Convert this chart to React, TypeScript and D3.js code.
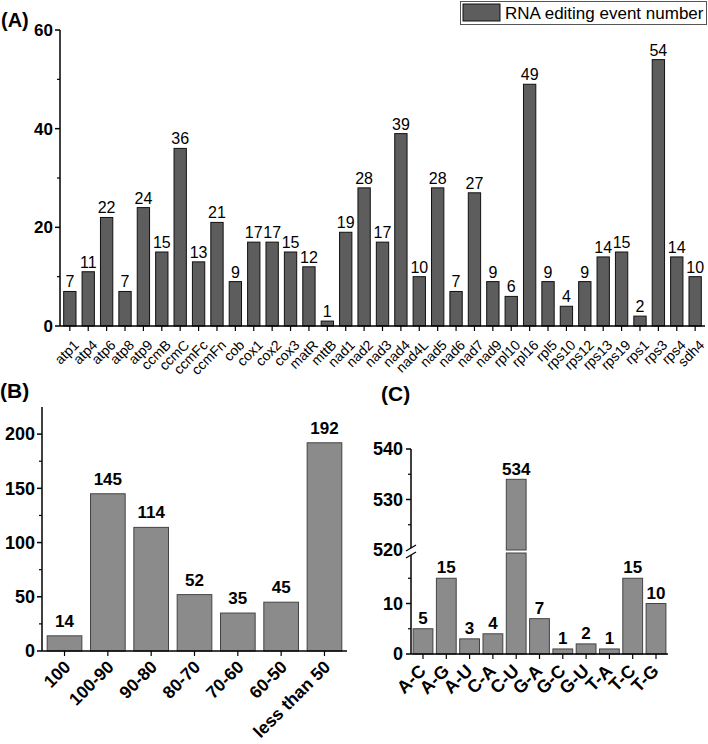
import * as d3 from "d3";

const genes = [
  "atp1", "atp4", "atp6", "atp8", "atp9", "ccmB", "ccmC", "ccmFc", "ccmFn", "cob",
  "cox1", "cox2", "cox3", "matR", "mttB", "nad1", "nad2", "nad3", "nad4", "nad4L",
  "nad5", "nad6", "nad7", "nad9", "rpl10", "rpl16", "rpl5", "rps10", "rps12", "rps13",
  "rps19", "rps1", "rps3", "rps4", "sdh4",
];
const geneCounts = [
  7, 11, 22, 7, 24, 15, 36, 13, 21, 9,
  17, 17, 15, 12, 1, 19, 28, 17, 39, 10,
  28, 7, 27, 9, 6, 49, 9, 4, 9, 14,
  15, 2, 54, 14, 10,
];
const aTicks = [0, 20, 40, 60];
const aMinor = [10, 30, 50];

const rangeLabels = ["100", "100-90", "90-80", "80-70", "70-60", "60-50", "less than 50"];
const rangeCounts = [14, 145, 114, 52, 35, 45, 192];
const bTicks = [0, 50, 100, 150, 200];
const bMinor = [25, 75, 125, 175];

const typeLabels = ["A-C", "A-G", "A-U", "C-A", "C-U", "G-A", "G-C", "G-U", "T-A", "T-C", "T-G"];
const typeCounts = [5, 15, 3, 4, 534, 7, 1, 2, 1, 15, 10];
const cLowTicks = [0, 10];
const cLowMinor = [5, 15];
const cHighTicks = [520, 530, 540];
const cHighMinor = [525, 535];

const FONT = "'Liberation Sans', Arial, sans-serif";

function PanelA() {
  const x = d3.scaleBand<string>().domain(genes).range([60, 705]).paddingInner(0.33).paddingOuter(0.2);
  const y = d3.scaleLinear().domain([0, 60]).range([326, 30]);
  const y0 = y(0);
  return (
    <g>
      <text x={1} y={27} fontSize={20} fontWeight="bold">(A)</text>
      {/* legend */}
      <rect x={460.5} y={1.5} width={246} height={23} fill="white" stroke="#555" strokeWidth={1} />
      <rect x={463} y={4} width={37} height={17} fill="#5d5d5d" stroke="#111" strokeWidth={1} />
      <text x={505} y={19} fontSize={17}>RNA editing event number</text>

      {genes.map((g, i) => (
        <rect key={g} x={x(g)} y={y(geneCounts[i])} width={x.bandwidth()} height={y0 - y(geneCounts[i])}
          fill="#5d5d5d" stroke="#111" strokeWidth={1} />
      ))}
      {genes.map((g, i) => (
        <text key={g} x={x(g)! + x.bandwidth() / 2} y={y(geneCounts[i]) - 4} fontSize={16} textAnchor="middle">
          {geneCounts[i]}
        </text>
      ))}
      {/* axes */}
      <line x1={60} x2={60} y1={y(60)} y2={y0} stroke="black" strokeWidth={1.5} />
      <line x1={60} x2={705} y1={y0} y2={y0} stroke="black" strokeWidth={1.5} />
      {aTicks.map((t) => (
        <g key={t}>
          <line x1={55} x2={60} y1={y(t)} y2={y(t)} stroke="black" strokeWidth={1.5} />
          <text x={53} y={y(t)} dy="0.35em" fontSize={17} fontWeight="bold" textAnchor="end">{t}</text>
        </g>
      ))}
      {aMinor.map((t) => (
        <line key={t} x1={57} x2={60} y1={y(t)} y2={y(t)} stroke="black" strokeWidth={1.2} />
      ))}
      {genes.map((g) => {
        const cx = x(g)! + x.bandwidth() / 2;
        return (
          <g key={g}>
            <line x1={cx} x2={cx} y1={y0} y2={y0 + 5} stroke="black" strokeWidth={1.2} />
            <text transform={`translate(${cx + 10},${y0 + 20}) rotate(-45)`} fontSize={14} textAnchor="end">{g}</text>
          </g>
        );
      })}
    </g>
  );
}

function PanelB() {
  const x = d3.scaleBand<string>().domain(rangeLabels).range([42, 347]).paddingInner(0.2).paddingOuter(0.12);
  const y = d3.scaleLinear().domain([0, 225]).range([651, 407]);
  const y0 = y(0);
  return (
    <g>
      <text x={0} y={398} fontSize={21} fontWeight="bold">(B)</text>
      {rangeLabels.map((g, i) => (
        <rect key={g} x={x(g)} y={y(rangeCounts[i])} width={x.bandwidth()} height={y0 - y(rangeCounts[i])}
          fill="#8b8b8b" stroke="#444" strokeWidth={1} />
      ))}
      {rangeLabels.map((g, i) => (
        <text key={g} x={x(g)! + x.bandwidth() / 2} y={y(rangeCounts[i]) - 9} fontSize={17} fontWeight="bold" textAnchor="middle">
          {rangeCounts[i]}
        </text>
      ))}
      <line x1={42} x2={42} y1={y(225)} y2={y0} stroke="black" strokeWidth={1.5} />
      <line x1={42} x2={347} y1={y0} y2={y0} stroke="black" strokeWidth={1.5} />
      {bTicks.map((t) => (
        <g key={t}>
          <line x1={37} x2={42} y1={y(t)} y2={y(t)} stroke="black" strokeWidth={1.5} />
          <text x={35} y={y(t)} dy="0.35em" fontSize={18} fontWeight="bold" textAnchor="end">{t}</text>
        </g>
      ))}
      {bMinor.map((t) => (
        <line key={t} x1={39} x2={42} y1={y(t)} y2={y(t)} stroke="black" strokeWidth={1.2} />
      ))}
      {rangeLabels.map((g) => {
        const cx = x(g)! + x.bandwidth() / 2;
        return (
          <g key={g}>
            <line x1={cx} x2={cx} y1={y0} y2={y0 + 5} stroke="black" strokeWidth={1.2} />
            <text transform={`translate(${cx + 7},${y0 + 17}) rotate(-45)`} fontSize={17.5} fontWeight="bold" textAnchor="end">{g}</text>
          </g>
        );
      })}
    </g>
  );
}

function PanelC() {
  const x = d3.scaleBand<string>().domain(typeLabels).range([411, 668]).paddingInner(0.15).paddingOuter(0.09);
  const yLow = d3.scaleLinear().domain([0, 20]).range([654, 553]);
  const yHigh = d3.scaleLinear().domain([520, 540]).range([550, 449]);
  const y0 = yLow(0);
  const ax = 411;
  return (
    <g>
      <text x={381} y={401} fontSize={21} fontWeight="bold">(C)</text>
      {typeLabels.map((g, i) => {
        const v = typeCounts[i];
        const bx = x(g)!;
        const w = x.bandwidth();
        if (v > 20) {
          return (
            <g key={g}>
              <rect x={bx} y={yHigh(v)} width={w} height={yHigh(520) - yHigh(v)} fill="#8b8b8b" stroke="#444" strokeWidth={1} />
              <rect x={bx} y={yLow(20)} width={w} height={y0 - yLow(20)} fill="#8b8b8b" stroke="#444" strokeWidth={1} />
              <text x={bx + w / 2} y={yHigh(v) - 4} fontSize={17} fontWeight="bold" textAnchor="middle">{v}</text>
            </g>
          );
        }
        return (
          <g key={g}>
            <rect x={bx} y={yLow(v)} width={w} height={y0 - yLow(v)} fill="#8b8b8b" stroke="#444" strokeWidth={1} />
            <text x={bx + w / 2} y={yLow(v) - 5} fontSize={17} fontWeight="bold" textAnchor="middle">{v}</text>
          </g>
        );
      })}
      <line x1={ax} x2={ax} y1={yHigh(540)} y2={yHigh(520) - 2} stroke="black" strokeWidth={1.5} />
      <line x1={ax} x2={ax} y1={yLow(20) + 2} y2={y0} stroke="black" strokeWidth={1.5} />
      <line x1={ax - 5} x2={ax + 5} y1={yHigh(520) + 1} y2={yHigh(520) - 5} stroke="black" strokeWidth={1.3} />
      <line x1={ax - 5} x2={ax + 5} y1={yLow(20) + 5} y2={yLow(20) - 1} stroke="black" strokeWidth={1.3} />
      <line x1={ax} x2={668} y1={y0} y2={y0} stroke="black" strokeWidth={1.5} />
      {cHighTicks.map((t) => (
        <g key={t}>
          {t !== 520 && <line x1={ax - 5} x2={ax} y1={yHigh(t)} y2={yHigh(t)} stroke="black" strokeWidth={1.5} />}
          <text x={ax - 8} y={yHigh(t)} dy="0.35em" fontSize={18} fontWeight="bold" textAnchor="end">{t}</text>
        </g>
      ))}
      {cHighMinor.map((t) => (
        <line key={t} x1={ax - 3} x2={ax} y1={yHigh(t)} y2={yHigh(t)} stroke="black" strokeWidth={1.2} />
      ))}
      {cLowTicks.map((t) => (
        <g key={t}>
          <line x1={ax - 5} x2={ax} y1={yLow(t)} y2={yLow(t)} stroke="black" strokeWidth={1.5} />
          <text x={ax - 8} y={yLow(t)} dy="0.35em" fontSize={18} fontWeight="bold" textAnchor="end">{t}</text>
        </g>
      ))}
      {cLowMinor.map((t) => (
        <line key={t} x1={ax - 3} x2={ax} y1={yLow(t)} y2={yLow(t)} stroke="black" strokeWidth={1.2} />
      ))}
      {typeLabels.map((g) => {
        const cx = x(g)! + x.bandwidth() / 2;
        return (
          <g key={g}>
            <line x1={cx} x2={cx} y1={y0} y2={y0 + 5} stroke="black" strokeWidth={1.2} />
            <text transform={`translate(${cx + 4},${y0 + 18}) rotate(-45)`} fontSize={18} fontWeight="bold" textAnchor="end">{g}</text>
          </g>
        );
      })}
    </g>
  );
}

export default function App() {
  return (
    <svg width={708} height={744} viewBox="0 0 708 744" fontFamily={FONT}
      style={{ position: "absolute", left: 0, top: 0, background: "white" }}>
      <PanelA />
      <PanelB />
      <PanelC />
    </svg>
  );
}
